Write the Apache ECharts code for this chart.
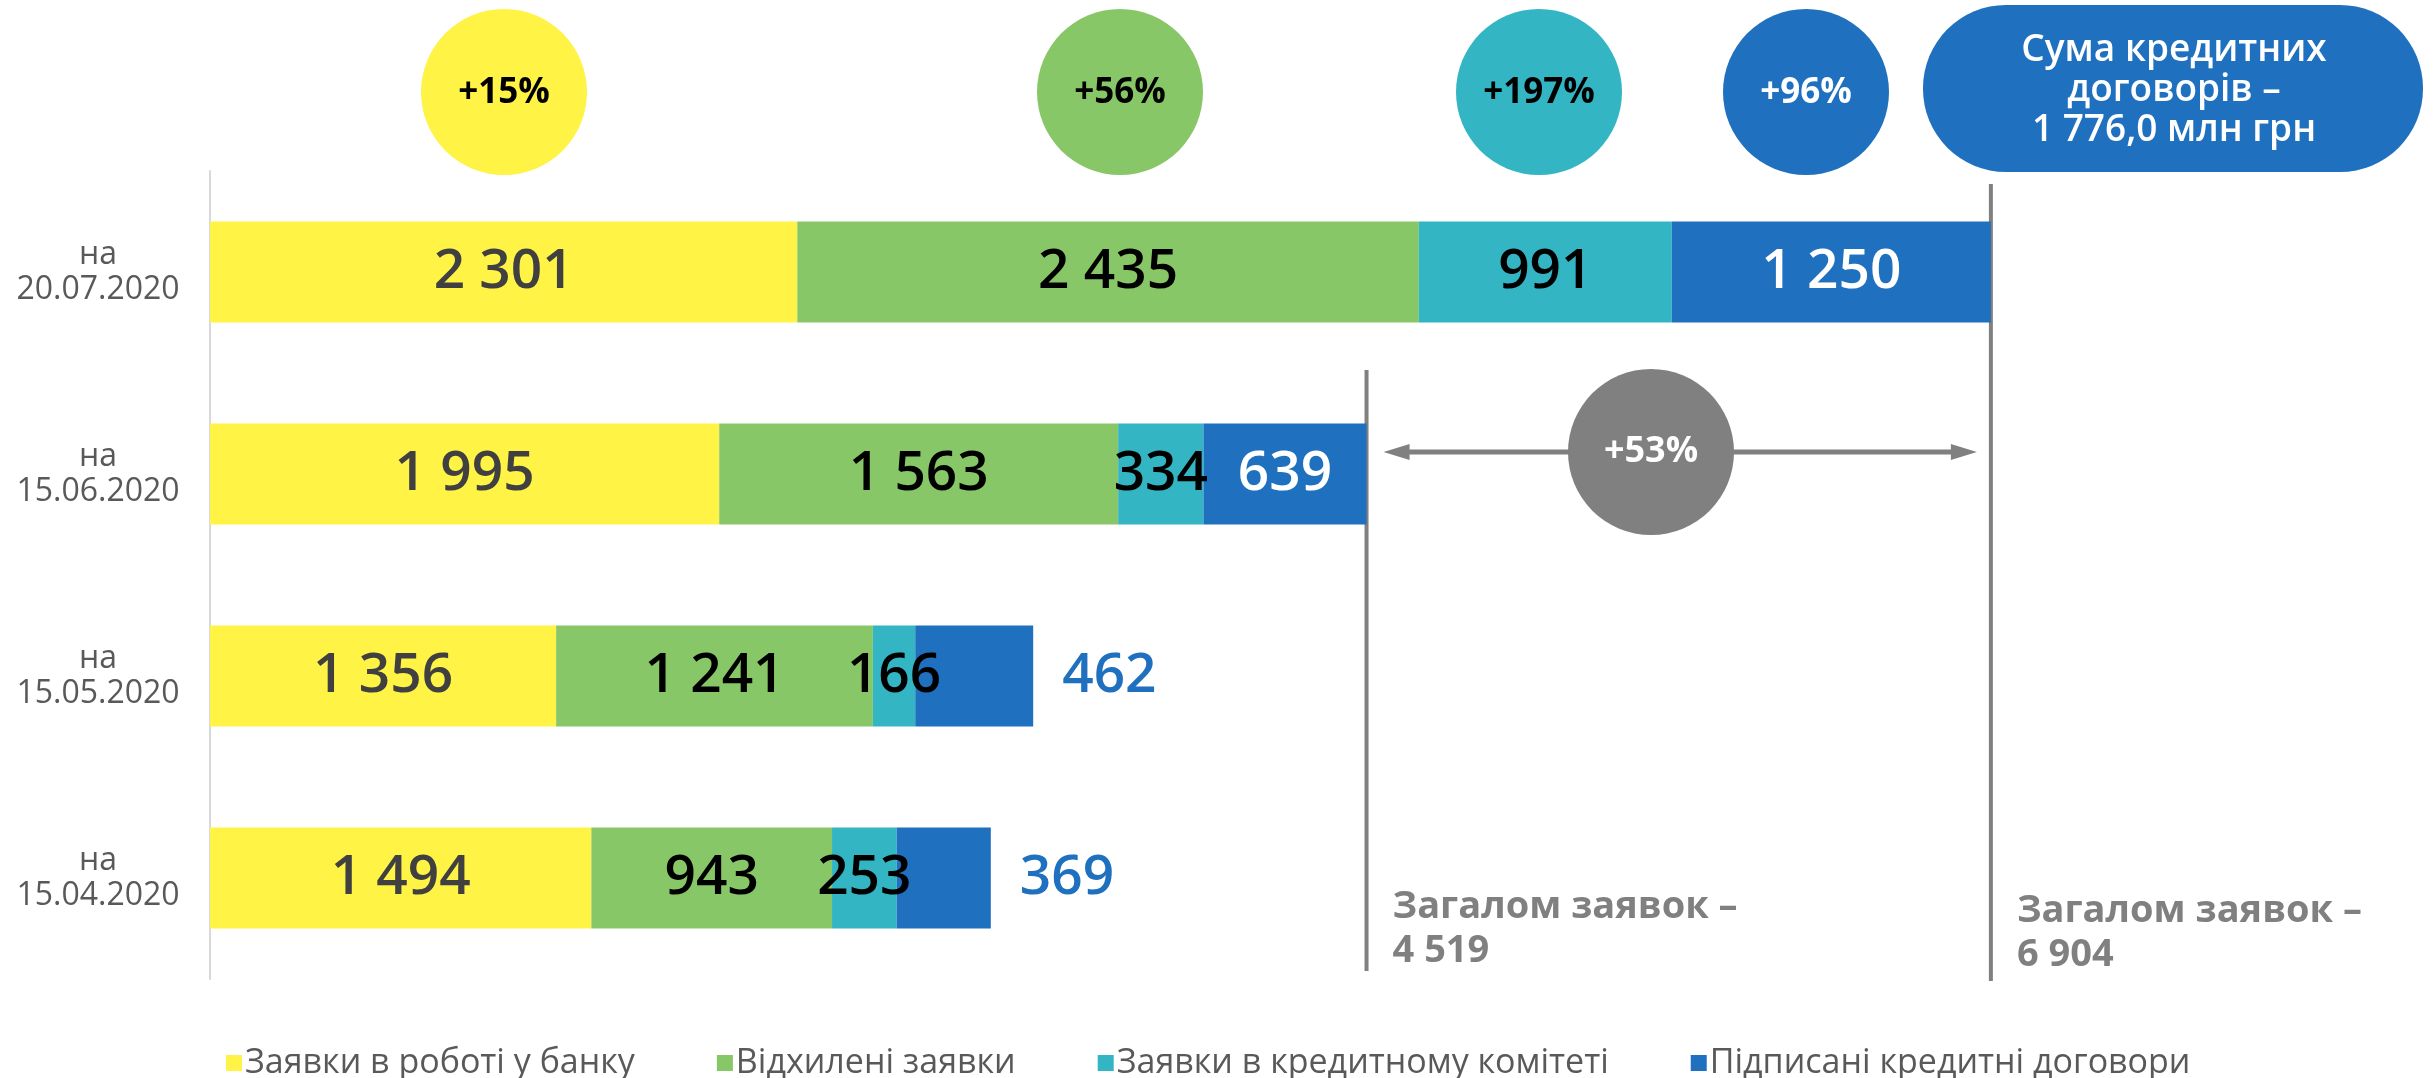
<!DOCTYPE html>
<html>
<head>
<meta charset="utf-8">
<script src="https://cdn.jsdelivr.net/npm/echarts@6/dist/echarts.min.js"></script>
<style>
  html, body { margin: 0; padding: 0; background: #fff; }
  #chart { width: 2435px; height: 1078px; }
</style>
</head>
<body>
<div id="chart"></div>
<script>
// категорії (зверху вниз)
var dates = ['на\n20.07.2020', 'на\n15.06.2020', 'на\n15.05.2020', 'на\n15.04.2020'];
var seriesNames = ['Заявки в роботі у банку', 'Відхилені заявки', 'Заявки в кредитному комітеті', 'Підписані кредитні договори'];
var inWork = [2301, 1995, 1356, 1494];
var rejected = [2435, 1563, 1241, 943];
var committee = [991, 334, 166, 253];
var signed = [1250, 639, 462, 369];
// підписи над графіком
var growth = ['+15%', '+56%', '+197%', '+96%'];
var growthTotal = '+53%';
var totals = ['Загалом заявок –\n4 519', 'Загалом заявок –\n6 904'];
var sumText = 'Сума кредитних\nдоговорів –\n1 776,0 млн грн';

var colors = ['#FFF345', '#88C767', '#33B5C3', '#1F70BE'];
var FONT = '"Open Sans", "DejaVu Sans", sans-serif';

function fmt(v) {
  return String(v).replace(/\B(?=(\d{3})+(?!\d))/g, ' ');
}

var chart = echarts.init(document.getElementById('chart'));

// для останнього сегмента: всередині для двох верхніх, праворуч для інших
var signedData = signed.map(function (v, i) {
  if (i < 2) return v;
  return { value: v, label: { position: 'right', distance: 29, color: '#1F70BE' } };
});

function barSeries(name, data, color, labelColor) {
  return {
    name: name,
    type: 'bar',
    stack: 'total',
    barWidth: 101,
    data: data,
    itemStyle: { color: color },
    label: {
      show: true,
      position: 'inside',
      color: labelColor,
      fontFamily: FONT,
      fontSize: 55,
      fontWeight: 600,
      formatter: function (p) { return fmt(p.value); }
    },
    emphasis: { disabled: true }
  };
}

var option = {
  animation: false,
  grid: { left: 210, top: 171, width: 2042, height: 808 },
  legend: {
    data: seriesNames,
    left: 221,
    top: 1041,
    icon: 'rect',
    itemWidth: 16,
    itemHeight: 16,
    itemGap: 82,
    textStyle: { fontFamily: FONT, fontSize: 34, color: '#595959', padding: [0, 0, 0, -2] }
  },
  xAxis: { type: 'value', min: 0, max: 8000, show: false },
  yAxis: {
    type: 'category',
    inverse: true,
    data: dates,
    axisLine: { show: true, lineStyle: { color: '#d9d9d9', width: 2 } },
    axisTick: { show: false },
    axisLabel: {
      align: 'center',
      margin: 112,
      fontFamily: FONT,
      fontSize: 32,
      lineHeight: 35,
      color: '#595959'
    }
  },
  series: [
    barSeries(seriesNames[0], inWork, colors[0], '#404040'),
    barSeries(seriesNames[1], rejected, colors[1], '#000'),
    barSeries(seriesNames[2], committee, colors[2], '#000'),
    barSeries(seriesNames[3], signedData, colors[3], '#fff')
  ]
};
chart.setOption(option);

// позиції вертикальних ліній за сумами рядків
var sum0 = inWork[0] + rejected[0] + committee[0] + signed[0];
var sum1 = inWork[1] + rejected[1] + committee[1] + signed[1];
var xB = chart.convertToPixel({ xAxisIndex: 0 }, sum0);
var xA = chart.convertToPixel({ xAxisIndex: 0 }, sum1);

var circleX = [504, 1120, 1539, 1806];
var circleText = ['#000', '#000', '#000', '#fff'];
var gfx = [];
growth.forEach(function (t, i) {
  gfx.push({
    type: 'circle', shape: { cx: circleX[i], cy: 92, r: 83 },
    style: { fill: colors[i] }
  });
  gfx.push({
    type: 'text', x: circleX[i], y: 93,
    style: { text: t, fill: circleText[i], font: 'bold 35px ' + FONT, align: 'center', verticalAlign: 'middle' }
  });
});

// плашка з сумою
gfx.push({
  type: 'rect', shape: { x: 1923, y: 5, width: 500, height: 167, r: 83 },
  style: { fill: '#1F70BE' }
});
gfx.push({
  type: 'text', x: 2174, y: 90,
  style: { text: sumText, fill: '#fff', font: '600 37px ' + FONT, lineHeight: 40, align: 'center', verticalAlign: 'middle' }
});

// вертикальні лінії
gfx.push({ type: 'line', shape: { x1: xA, y1: 370, x2: xA, y2: 971 }, style: { stroke: '#808080', lineWidth: 4 } });
gfx.push({ type: 'line', shape: { x1: xB, y1: 184, x2: xB, y2: 981 }, style: { stroke: '#808080', lineWidth: 4 } });

// стрілка з +53%
var ay = 452;
var l = xA + 17, r = xB - 14;
gfx.push({ type: 'line', shape: { x1: l + 20, y1: ay, x2: r - 20, y2: ay }, style: { stroke: '#808080', lineWidth: 5 } });
gfx.push({ type: 'polygon', shape: { points: [[l, ay], [l + 26, ay - 8], [l + 26, ay + 8]] }, style: { fill: '#808080' } });
gfx.push({ type: 'polygon', shape: { points: [[r, ay], [r - 26, ay - 8], [r - 26, ay + 8]] }, style: { fill: '#808080' } });
gfx.push({ type: 'circle', shape: { cx: 1651, cy: ay, r: 83 }, style: { fill: '#808080' } });
gfx.push({
  type: 'text', x: 1651, y: ay,
  style: { text: growthTotal, fill: '#fff', font: 'bold 36px ' + FONT, align: 'center', verticalAlign: 'middle' }
});

// підсумки
gfx.push({
  type: 'text', x: xA + 26, y: 885,
  style: { text: totals[0], fill: '#808080', font: 'bold 38px ' + FONT, lineHeight: 44, verticalAlign: 'top' }
});
gfx.push({
  type: 'text', x: xB + 26, y: 889,
  style: { text: totals[1], fill: '#808080', font: 'bold 38px ' + FONT, lineHeight: 44, verticalAlign: 'top' }
});

chart.setOption({ graphic: gfx });
</script>
</body>
</html>
